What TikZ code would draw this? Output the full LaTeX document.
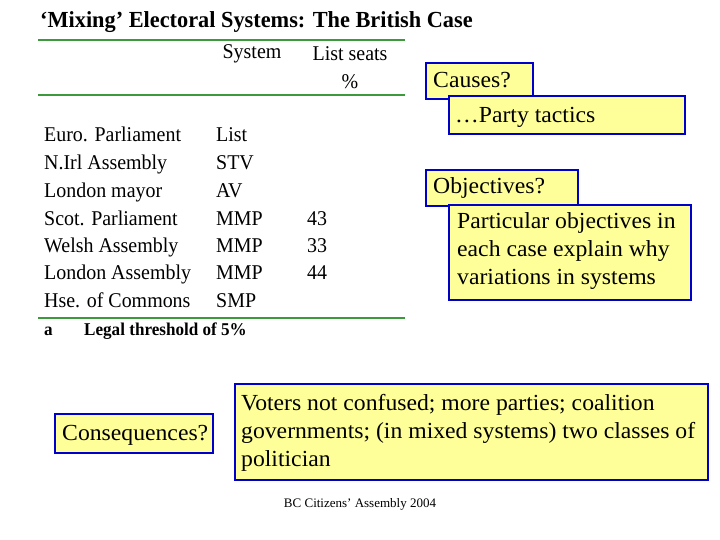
\documentclass[tikz,border=0pt]{standalone}
\usepackage{fontspec}
\setmainfont{Liberation Serif}
\definecolor{bboxc}{HTML}{0000CC}
\definecolor{fillc}{HTML}{FFFF99}
\definecolor{rulec}{HTML}{3C9A3C}
\tikzset{
 yb/.style={draw=bboxc,line width=2.5pt,fill=fillc,inner sep=0pt,outer sep=0pt,anchor=north west},
 bt/.style={font=\rmfamily\fontsize{23}{28}\selectfont,anchor=west,inner sep=0pt,align=left,xscale=1.03,transform shape},
 tb/.style={font=\rmfamily\fontsize{21}{21}\selectfont,anchor=west,inner sep=0pt,xscale=0.95,transform shape},
 rl/.style={draw=rulec,line width=1.6pt}
}
\begin{document}
\begin{tikzpicture}[x=1pt,y=-1pt]
\useasboundingbox (0,0) rectangle (720,540);
\node[anchor=west,inner sep=0pt,font=\rmfamily\fontsize{23}{23}\selectfont\bfseries,xscale=0.97,transform shape] (title) at (40,22) {‘Mixing’ Electoral Systems: The British Case};
\coordinate (r1a) at (38,40); \coordinate (r1b) at (405,40);
\coordinate (r2a) at (38,95); \coordinate (r2b) at (405,95);
\coordinate (r3a) at (38,318); \coordinate (r3b) at (405,318);
\draw[rl] (r1a) -- (r1b); \draw[rl] (r2a) -- (r2b); \draw[rl] (r3a) -- (r3b);
\node[tb,anchor=center] (h1) at (252,54) {System};
\node[tb,anchor=center] (h2) at (350,54) {List seats};
\node[tb,anchor=center] (h3) at (350,82) {\%};
\foreach \n/\a/\b/\c/\y in {e/Euro. Parliament/List//137, n/N.Irl Assembly/STV//165, l/London mayor/AV//193, s/Scot. Parliament/MMP/43/221, w/Welsh Assembly/MMP/33/248, la/London Assembly/MMP/44/275, h/Hse. of Commons/SMP//303}{
 \node[tb] (\n a) at (44,\y) {\strut\a};
 \node[tb] (\n b) at (216,\y) {\strut\b};
 \node[tb] (\n c) at (307,\y) {\strut\c};
}
\node[tb,font=\rmfamily\fontsize{18}{18}\selectfont\bfseries] (fa) at (44,331) {a};
\node[tb,font=\rmfamily\fontsize{18}{18}\selectfont\bfseries] (fb) at (84,331) {Legal threshold of 5\%};
% boxes
\node[yb,minimum width=107pt,minimum height=36pt] (c1) at (426,63) {};
\node[bt] (c1t) at (433,80) {Causes?};
\node[yb,minimum width=236pt,minimum height=38pt] (c2) at (449,96) {};
\node[bt] (c2t) at (455,117) {…Party tactics};
\node[yb,minimum width=152pt,minimum height=36pt] (o1) at (426,170) {};
\node[bt] (o1t) at (433,188) {Objectives?};
\node[yb,minimum width=242pt,minimum height=95pt] (o2) at (449,205) {};
\node[bt,anchor=north west] (o2t) at (457,212) {Particular objectives in\\each case explain why\\variations in systems};
\node[yb,minimum width=158pt,minimum height=39pt] (q1) at (55,414) {};
\node[bt] (q1t) at (62,435) {Consequences?};
\node[yb,minimum width=473pt,minimum height=96pt] (q2) at (235,384) {};
\node[bt,anchor=north west] (q2t) at (241,394) {Voters not confused; more parties; coalition\\governments; (in mixed systems) two classes of\\politician};
\node[anchor=center,inner sep=0pt,font=\rmfamily\fontsize{13}{13}\selectfont] (ft) at (360,504) {BC Citizens' Assembly 2004};
\end{tikzpicture}
\end{document}
